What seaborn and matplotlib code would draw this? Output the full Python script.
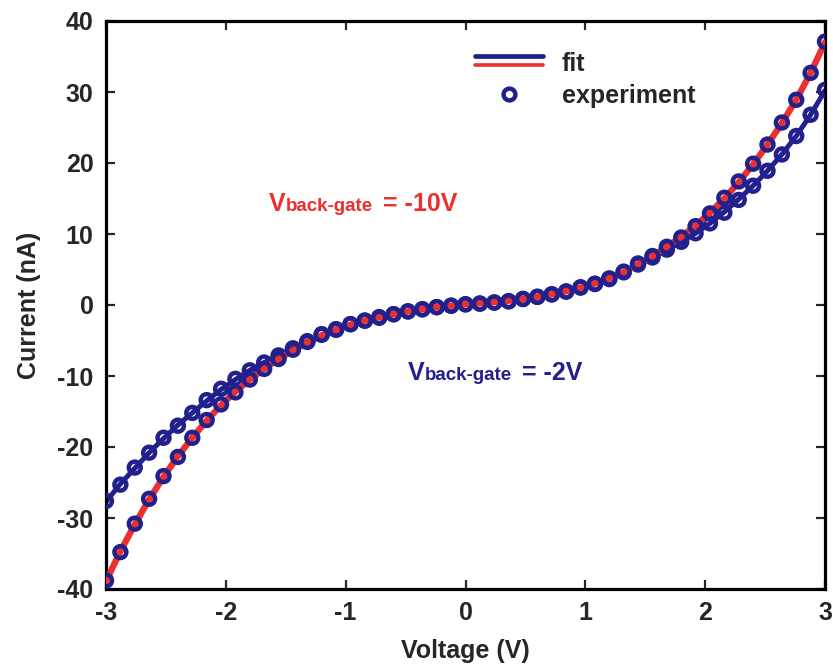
import numpy as np
import pandas as pd
import seaborn as sns
import matplotlib
matplotlib.use("Agg")
import matplotlib.pyplot as plt
from matplotlib.lines import Line2D
from matplotlib.legend_handler import HandlerBase

# Bias voltage sweep (V), 0.12 V steps from -3 V to 3 V
voltage = [
    -3.00, -2.88, -2.76, -2.64, -2.52, -2.40, -2.28, -2.16, -2.04, -1.92,
    -1.80, -1.68, -1.56, -1.44, -1.32, -1.20, -1.08, -0.96, -0.84, -0.72,
    -0.60, -0.48, -0.36, -0.24, -0.12, 0.00, 0.12, 0.24, 0.36, 0.48,
    0.60, 0.72, 0.84, 0.96, 1.08, 1.20, 1.32, 1.44, 1.56, 1.68,
    1.80, 1.92, 2.04, 2.16, 2.28, 2.40, 2.52, 2.64, 2.76, 2.88, 3.00,
]

# Measured current (nA), back gate at -10 V
exp_m10 = [
    -38.8, -34.8, -30.8, -27.3, -24.1, -21.4, -18.7, -16.2, -14.0, -12.3,
    -10.5, -9.0, -7.6, -6.3, -5.2, -4.2, -3.5, -2.7, -2.2, -1.8,
    -1.3, -0.9, -0.6, -0.3, -0.1, 0.1, 0.2, 0.35, 0.5, 0.85,
    1.15, 1.5, 1.9, 2.5, 3.0, 3.75, 4.7, 5.85, 6.9, 8.2,
    9.5, 11.1, 12.9, 15.1, 17.4, 19.9, 22.6, 25.7, 28.9, 32.7, 37.1,
]

# Fitted current (nA), back gate at -10 V
fit_m10 = [
    -38.9, -34.7, -30.9, -27.4, -24.2, -21.3, -18.7, -16.3, -14.1, -12.2,
    -10.5, -9.0, -7.6, -6.4, -5.3, -4.3, -3.5, -2.8, -2.2, -1.7,
    -1.3, -0.9, -0.6, -0.3, -0.1, 0.1, 0.25, 0.4, 0.6, 0.85,
    1.15, 1.5, 1.95, 2.45, 3.05, 3.75, 4.6, 5.7, 6.9, 8.2,
    9.6, 11.2, 13.0, 15.0, 17.3, 19.8, 22.6, 25.6, 28.9, 32.7, 37.0,
]

# Measured current (nA), back gate at -2 V
exp_m2 = [
    -27.6, -25.3, -22.9, -20.8, -18.7, -17.0, -15.2, -13.4, -11.8, -10.4,
    -9.2, -8.1, -7.1, -6.1, -5.1, -4.1, -3.4, -2.7, -2.2, -1.7,
    -1.3, -0.9, -0.6, -0.3, -0.1, 0.1, 0.2, 0.35, 0.55, 0.85,
    1.15, 1.5, 1.9, 2.45, 2.95, 3.65, 4.6, 5.7, 6.7, 7.8,
    8.9, 10.1, 11.5, 13.0, 14.8, 16.8, 18.9, 21.2, 23.8, 26.8, 30.3,
]

# Fitted current (nA), back gate at -2 V
fit_m2 = [
    -27.7, -25.2, -23.0, -20.8, -18.8, -16.9, -15.2, -13.5, -11.9, -10.5,
    -9.2, -8.1, -7.1, -6.1, -5.1, -4.2, -3.4, -2.7, -2.2, -1.7,
    -1.3, -0.9, -0.6, -0.3, -0.1, 0.1, 0.25, 0.4, 0.6, 0.85,
    1.15, 1.5, 1.95, 2.45, 2.95, 3.65, 4.55, 5.6, 6.7, 7.8,
    8.9, 10.1, 11.5, 13.1, 14.9, 16.8, 18.9, 21.2, 23.8, 26.8, 30.2,
]

x_ticks = [-3, -2, -1, 0, 1, 2, 3]
y_ticks = [-40, -30, -20, -10, 0, 10, 20, 30, 40]

NAVY = "#22208c"
RED = "#ec2f2f"
FS = 18

sns.set_theme(style="ticks")
plt.rcParams["font.family"] = ["Liberation Sans", "DejaVu Sans"]
plt.rcParams["font.weight"] = "bold"

df = pd.DataFrame({
    "voltage": voltage,
    "exp_m10": exp_m10, "fit_m10": fit_m10,
    "exp_m2": exp_m2, "fit_m2": fit_m2,
})

fig = plt.figure(figsize=(8.33, 6.66), dpi=100)
ax = fig.add_axes([106 / 833, 1 - 589 / 666, (825 - 106) / 833, (589 - 21) / 666])

# -2 V: navy fit line under hollow navy markers
sns.lineplot(data=df, x="voltage", y="fit_m2", ax=ax, color=NAVY, lw=3.6, zorder=2)
sns.scatterplot(data=df, x="voltage", y="exp_m2", ax=ax, marker="o", s=74,
                facecolors="none", edgecolor=NAVY, linewidth=3.2, zorder=3)

# -10 V: red fit line seen through hollow navy markers
sns.lineplot(data=df, x="voltage", y="fit_m10", ax=ax, color=RED, lw=4.6, zorder=4)
sns.scatterplot(data=df, x="voltage", y="exp_m10", ax=ax, marker="o", s=74,
                facecolors="none", edgecolor=NAVY, linewidth=3.2, zorder=5)

ax.set_xlim(-3, 3)
ax.set_ylim(-40, 40)
ax.set_xticks(x_ticks)
ax.set_yticks(y_ticks)
ax.set_xticklabels([str(t) for t in x_ticks])
ax.set_yticklabels([str(t) for t in y_ticks])
ax.tick_params(direction="in", top=True, right=True, length=6.5, width=1.6,
               labelsize=FS)
ax.tick_params(axis="x", pad=9)
ax.tick_params(axis="y", pad=9)
for lab in ax.get_xticklabels() + ax.get_yticklabels():
    lab.set_fontweight("bold")
for sp in ax.spines.values():
    sp.set_linewidth(2.3)
    sp.set_color("black")

ax.set_xlabel("Voltage (V)", fontsize=FS, fontweight="bold", labelpad=9.5)
ax.set_ylabel("Current (nA)", fontsize=FS, fontweight="bold", labelpad=12)


class StackedLines(HandlerBase):
    """Draws a tuple of lines stacked one above the other in the legend."""

    def create_artists(self, legend, orig_handle, xdescent, ydescent,
                       width, height, fontsize, trans):
        artists = []
        n = len(orig_handle)
        for i, h in enumerate(orig_handle):
            y = height * (0.85 - 0.5 * i / max(n - 1, 1)) - ydescent
            ln = Line2D([-xdescent, -xdescent + width], [y, y],
                        color=h.get_color(), lw=h.get_linewidth(),
                        transform=trans)
            artists.append(ln)
        return artists


fit_handle = (Line2D([], [], color=NAVY, lw=3.4), Line2D([], [], color=RED, lw=2.6))
exp_handle = Line2D([], [], ls="none", marker="o", markersize=8.5,
                    markerfacecolor="none", markeredgecolor=NAVY,
                    markeredgewidth=3.2)
ax.legend([fit_handle, exp_handle], ["fit", "experiment"],
          handler_map={tuple: StackedLines()},
          loc="upper left", bbox_to_anchor=((475 - 106) / 719, 1 - (52 - 21) / 568),
          frameon=False, borderpad=0, borderaxespad=0, handlelength=2.72,
          handletextpad=0.75, labelspacing=0.32,
          prop={"size": FS, "weight": "bold"})


def gate_label(x, y, value, color):
    t1 = ax.text(x, y, "V", color=color, fontsize=FS, fontweight="bold",
                 va="baseline", ha="left")
    t2 = ax.annotate("back-gate", xy=(1, 0), xycoords=t1, color=color,
                     fontsize=13.5, fontweight="bold", va="bottom", ha="left",
                     xytext=(0.3, 0.6), textcoords="offset points")
    ax.annotate(f" = {value}", xy=(1, 0), xycoords=t2, color=color,
                fontsize=FS, fontweight="bold", va="bottom", ha="left",
                xytext=(2.5, -0.6), textcoords="offset points")


gate_label(-1.644, 13.3, "-10V", RED)
gate_label(-0.484, -10.5, "-2V", NAVY)

fig.savefig("out.png", dpi=100)
